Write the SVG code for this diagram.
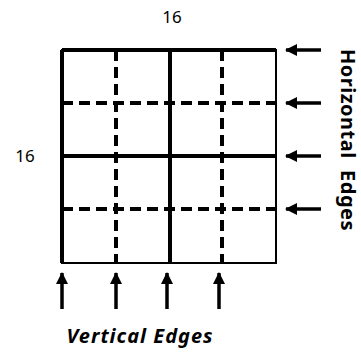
<svg xmlns="http://www.w3.org/2000/svg" width="361" height="352" viewBox="0 0 361 352">
<style>
.solid{stroke:#000;stroke-width:4;fill:none}
.dash{stroke:#000;stroke-width:4;fill:none;stroke-dasharray:11 6}
.thin{stroke:#000;stroke-width:2;fill:none}
.arr{stroke:#000;stroke-width:3.5;fill:none;marker-end:url(#ah)}
.lbl{font-family:"Noto Sans","DejaVu Sans",sans-serif;font-size:17px;fill:#000}
.bold{font-family:"Noto Sans","DejaVu Sans",sans-serif;font-size:20px;font-weight:bold;fill:#000}
</style>
<defs>
<marker id="ah" markerWidth="12" markerHeight="12" refX="11" refY="6" orient="auto" markerUnits="userSpaceOnUse">
<path d="M0,0 L12,6 L0,12 Z" fill="#000"/>
</marker>
</defs>
<g id="grid">
<rect x="62" y="50" width="214" height="213" class="thin"/>
<line x1="62" y1="50" x2="276" y2="50" class="solid"/>
<line x1="62" y1="156" x2="276" y2="156" class="solid"/>
<line x1="62" y1="50" x2="62" y2="263" class="solid"/>
<line x1="170" y1="50" x2="170" y2="263" class="solid"/>
<line x1="62" y1="103" x2="276" y2="103" class="dash"/>
<line x1="62" y1="209" x2="276" y2="209" class="dash"/>
<line x1="116" y1="50" x2="116" y2="263" class="dash"/>
<line x1="222" y1="50" x2="222" y2="263" class="dash"/>
</g>
<g id="connectors">
<line x1="321" y1="50" x2="286" y2="50" class="arr"/>
<line x1="321" y1="103" x2="286" y2="103" class="arr"/>
<line x1="321" y1="156" x2="286" y2="156" class="arr"/>
<line x1="321" y1="209" x2="286" y2="209" class="arr"/>
<line x1="62" y1="309" x2="62" y2="273" class="arr"/>
<line x1="116" y1="309" x2="116" y2="273" class="arr"/>
<line x1="167" y1="309" x2="167" y2="273" class="arr"/>
<line x1="219" y1="309" x2="219" y2="273" class="arr"/>
</g>
<g id="labels">
<text class="lbl" x="172" y="23" text-anchor="middle">16</text>
<text class="lbl" x="25" y="162" text-anchor="middle">16</text>
<text class="bold" x="140" y="343" text-anchor="middle" font-style="italic" letter-spacing="1">Vertical Edges</text>
<text class="bold" transform="translate(341,140) rotate(90)" text-anchor="middle" letter-spacing="0.5" xml:space="preserve">Horizontal  Edges</text>
</g>
</svg>
